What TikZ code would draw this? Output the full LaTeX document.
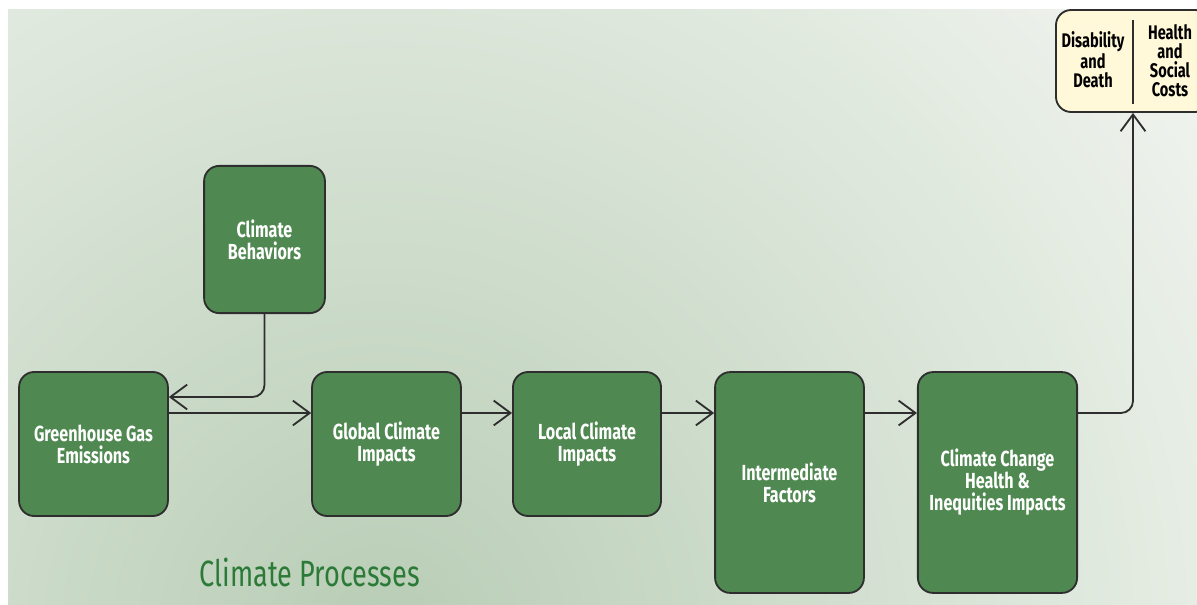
\documentclass[tikz,border=0pt]{standalone}
\usepackage{fontspec}
\setmainfont{Fira Sans}[FakeStretch=0.74]
\usepackage{tikz}
\usetikzlibrary{arrows.meta}

\definecolor{boxgreen}{HTML}{4F8850}
\definecolor{edgegray}{HTML}{2E2E2E}
\definecolor{cream}{HTML}{FFF8D9}
\definecolor{titlegreen}{HTML}{2C7A38}
\definecolor{bginner}{HTML}{B8CDB5}
\definecolor{bgouter}{HTML}{FAFBF9}

\begin{document}
\begin{tikzpicture}[x=0.025cm, y=-0.025cm,
    step box/.style={draw=edgegray, line width=1.3pt, fill=boxgreen, rounded corners=0.38cm,
      text=white, font=\bfseries\fontsize{15.5}{15.6}\selectfont, align=center,
      minimum width=3.72cm, minimum height=3.6cm, inner sep=0pt},
    flow/.style={draw=edgegray, line width=1.3pt, -{Straight Barb[length=0.42cm,width=0.62cm,line width=1.3pt]}},
    outcome/.style={font=\bfseries\fontsize{14}{13.6}\selectfont, align=center, text=black}]
  \useasboundingbox (0,0) rectangle (1197,605);
  % background
  \fill[white] (0,0) rectangle (1197,605);
  \begin{scope}
    \clip (8,9) rectangle (1197,605);
    \shade[inner color=bginner, outer color=bgouter] (380,640) circle[radius=1180];
  \end{scope}
  \coordinate (back) at (0,397);
  \coordinate (row) at (0,413);
  % boxes
  \node[step box, minimum width=3.02cm, minimum height=3.68cm] (beh) at (264.5,239.5) {Climate\\Behaviors};
  \node[step box] (ghg) at (93.5,444) {Greenhouse Gas\\Emissions};
  \node[step box] (glob) at (386.5,444) {Global Climate\\Impacts};
  \node[step box, minimum width=3.7cm] (loc) at (587,444) {Local Climate\\Impacts};
  \node[step box, minimum height=5.52cm] (inter) at (789.5,482.5) {Intermediate\\Factors};
  \node[step box, minimum width=3.98cm, minimum height=5.52cm] (cc) at (997.5,482.5) {Climate Change\\Health \&\\Inequities Impacts};
  \node[draw=edgegray, line width=1.3pt, fill=cream, rounded corners=0.38cm,
    minimum width=3.85cm, minimum height=2.55cm] (costs) at (1133,61) {};
  \node[outcome] (death) at (1093,60) {Disability\\and\\Death};
  \node[outcome] (social) at (1170,61) {Health\\and\\Social\\Costs};
  \draw[edgegray, line width=1.3pt] (1133,20) -- (1133,104);
  \node[text=titlegreen, font=\fontsize{26}{28}\selectfont, anchor=base west] (title) at (195,586) {Climate Processes};
  % connectors
  \draw[flow, rounded corners=0.3cm] (beh.south) |- (ghg.east |- back);
  \draw[flow] (ghg.east |- row) -- (glob.west |- row);
  \draw[flow] (glob.east |- row) -- (loc.west |- row);
  \draw[flow] (loc.east |- row) -- (inter.west |- row);
  \draw[flow] (inter.east |- row) -- (cc.west |- row);
  \draw[flow, rounded corners=0.3cm] (cc.east |- row) -| (costs.south);
\end{tikzpicture}
\end{document}
